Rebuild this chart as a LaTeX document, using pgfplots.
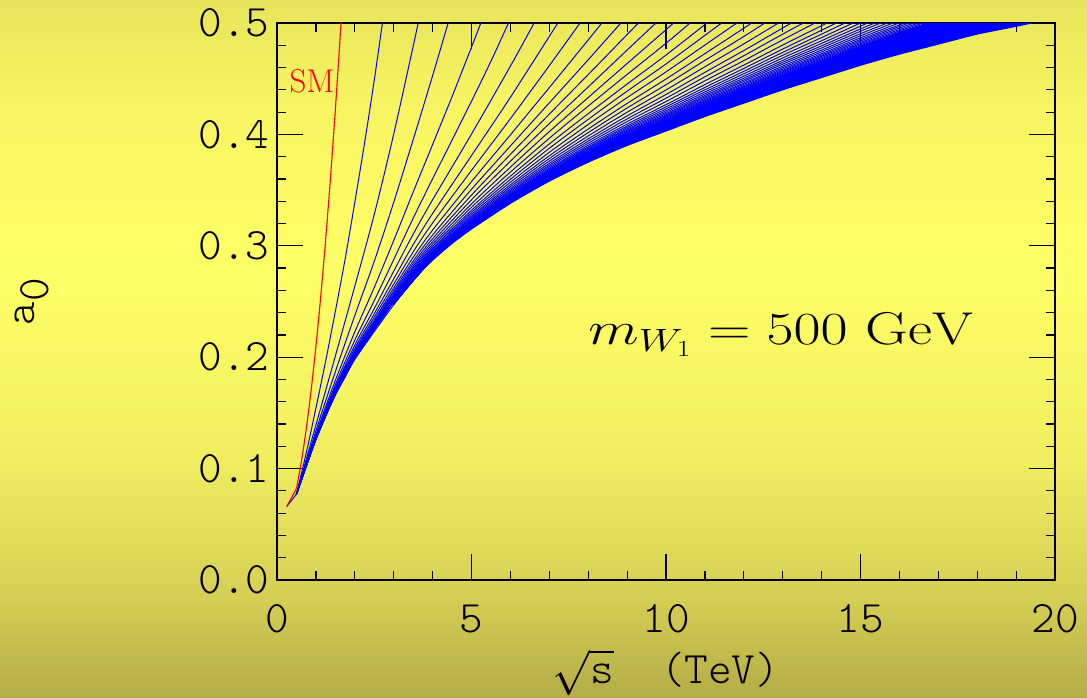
\RequirePackage{fix-cm}
\documentclass[border=0pt]{standalone}
\usepackage{fontspec}
\newfontfamily\lighttt{Latin Modern Mono Light}
\usepackage{pgfplots}
\pgfplotsset{compat=1.18}

% slide background: olive at the bottom, bright yellow a little above the middle
\definecolor{bgbot}{RGB}{180,172,70}
\definecolor{bglow}{RGB}{212,206,84}
\definecolor{bgmidlow}{RGB}{240,238,96}
\definecolor{bgmid}{RGB}{255,255,102}
\definecolor{bghigh}{RGB}{246,244,97}
\definecolor{bgtop}{RGB}{232,228,90}
\pgfdeclareverticalshading{slide}{100bp}{color(0bp)=(bgbot); color(25bp)=(bgbot);
  color(32bp)=(bglow); color(42bp)=(bgmidlow); color(56bp)=(bgmid);
  color(68bp)=(bghigh); color(75bp)=(bgtop); color(100bp)=(bgtop)}

\pgfplotsset{
  kk/.style={color=blue, line width=1pt, smooth, mark=none},
}

\begin{document}
\begin{tikzpicture}
\path[use as bounding box] (0,0) rectangle (1087pt,697pt);
\clip (0,0) rectangle (1087pt,697pt);
\shade[shading=slide] (0,0) rectangle (1087pt,697pt);
\begin{axis}[
  at={(277pt,117pt)}, anchor=south west,
  width=778pt, height=557pt, scale only axis,
  xmin=0, xmax=20, ymin=0, ymax=0.5,
  xtick={0,5,10,15,20}, xticklabels={0,5,10,15,20},
  ytick={0,0.1,0.2,0.3,0.4,0.5}, yticklabels={0.0,0.1,0.2,0.3,0.4,0.5},
  minor x tick num=4, minor y tick num=4,
  tick align=inside, tick pos=both,
  major tick length=26pt, minor tick length=9pt,
  every tick/.style={black, line width=1.2pt},
  axis line style={black, line width=1.4pt},
  xticklabel style={font=\fontsize{45}{45}\selectfont\lighttt, yshift=-21pt},
  yticklabel style={font=\fontsize{45}{45}\selectfont\lighttt, xshift=-4pt},
  xlabel={$\sqrt{\mbox{\lighttt s}}$\ \ (TeV)},
  xlabel style={font=\fontsize{45}{45}\selectfont\lighttt, at={(axis description cs:0.5,-0.1867)}, anchor=base},
  ylabel={a\raisebox{-0.3em}{0}},
  ylabel style={font=\fontsize{45}{45}\selectfont\lighttt, at={(axis description cs:-0.315,0.50)}, anchor=center},
  clip=true,
]

% dense part of the tower: region between the full envelope and the 40th curve
\addplot[fill=blue, draw=none] coordinates {
 (3,0.2477) (3.5,0.2699) (4,0.2882) (4.5,0.3035) (5,0.3169) (6,0.3408) (7,0.3618)
 (8,0.3799) (9,0.3962) (10,0.4107) (11,0.4253) (12,0.4391) (13,0.4530) (14,0.4661)
 (15,0.4794) (16,0.4918) (16.72,0.5) (19.4,0.5) (19,0.497) (18,0.490) (17,0.481)
 (16,0.472) (15,0.462) (14,0.451) (13,0.440) (12,0.428) (11,0.416) (10,0.403)
 (9,0.390) (8,0.375) (7,0.358) (6,0.338) (5,0.315) (4.5,0.302) (4,0.287)
 (3.5,0.269) (3,0.247)} -- cycle;

% full KK tower (envelope)
\addplot[color=blue, line width=1pt] coordinates {(0.25,0.066) (0.5,0.077)};
\addplot[kk] coordinates {(0.5,0.077) (0.75,0.102) (1,0.126) (1.25,0.147) (1.5,0.166)
 (1.75,0.182) (2,0.198) (2.5,0.223) (3,0.247) (3.5,0.269) (4,0.287) (4.5,0.302)
 (5,0.315) (6,0.338) (7,0.358) (8,0.375) (9,0.390) (10,0.403) (11,0.416)
 (12,0.428) (13,0.440) (14,0.451) (15,0.462) (16,0.472) (17,0.481) (18,0.490)
 (19,0.497) (19.4,0.500)};

% truncated towers, 1 ... 40 KK modes
\addplot[kk] coordinates {(0.5,0.077) (0.75,0.1138) (1,0.1542) (1.25,0.1964) (1.5,0.2412) (1.75,0.2878) (2,0.339) (2.25,0.392) (2.5,0.4486) (2.71,0.5)};
\addplot[kk] coordinates {(0.5,0.077) (1,0.1391) (1.5,0.2010) (2,0.2637) (2.5,0.3281) (3,0.4002) (3.5,0.4791) (3.63,0.5)};
\addplot[kk] coordinates {(0.5,0.077) (1,0.1339) (1.5,0.1870) (2,0.2374) (2.5,0.2861) (3,0.3390) (3.5,0.3952) (4,0.4527) (4.4,0.5)};
\addplot[kk] coordinates {(0.5,0.077) (1,0.1309) (1.5,0.1792) (2,0.2227) (2.5,0.2626) (3,0.3047) (3.5,0.3482) (4,0.3909) (4.5,0.4339) (5,0.4783) (5.24,0.5)};
\addplot[kk] coordinates {(0.5,0.077) (1,0.1295) (1.5,0.1753) (2,0.2154) (2.5,0.2508) (3,0.2876) (3.5,0.3247) (4,0.3601) (4.5,0.3948) (5,0.4298) (5.5,0.4657) (5.95,0.5)};
\addplot[kk] coordinates {(0.5,0.077) (1,0.1286) (1.5,0.1729) (2,0.2109) (2.5,0.2437) (3,0.2772) (3.5,0.3104) (4,0.3413) (5,0.4003) (6,0.4613) (6.61,0.5)};
\addplot[kk] coordinates {(0.5,0.077) (1,0.1280) (1.5,0.1713) (2,0.2080) (2.5,0.2390) (3,0.2703) (3.5,0.3010) (4,0.3290) (5,0.3810) (6,0.4333) (7,0.4880) (7.22,0.5)};
\addplot[kk] coordinates {(0.5,0.077) (1,0.1276) (1.5,0.1703) (2,0.2060) (2.5,0.2358) (3,0.2656) (3.5,0.2945) (4,0.3205) (5,0.3677) (6,0.4141) (7,0.4617) (7.79,0.5)};
\addplot[kk] coordinates {(0.5,0.077) (1,0.1273) (1.5,0.1695) (2,0.2045) (2.5,0.2333) (3,0.2621) (3.5,0.2897) (4,0.3141) (5,0.3576) (6,0.3996) (7,0.4420) (8,0.4848) (8.35,0.5)};
\addplot[kk] coordinates {(0.5,0.077) (1,0.1271) (1.5,0.1689) (2,0.2034) (2.5,0.2317) (3,0.2596) (3.5,0.2863) (4,0.3097) (5,0.3507) (6,0.3896) (7,0.4283) (8,0.4670) (8.84,0.5)};
\addplot[kk] coordinates {(0.5,0.077) (1,0.1269) (1.5,0.1685) (2,0.2026) (2.5,0.2304) (3,0.2578) (3.5,0.2838) (4,0.3064) (5,0.3455) (6,0.3821) (7,0.4182) (8,0.4537) (9,0.4896) (9.29,0.5)};
\addplot[kk] coordinates {(0.5,0.077) (1,0.1268) (1.5,0.1681) (2,0.2020) (2.5,0.2294) (3,0.2563) (3.5,0.2817) (4,0.3037) (5,0.3413) (6,0.3759) (7,0.4097) (8,0.4426) (9,0.4757) (9.74,0.5)};
\addplot[kk] coordinates {(0.5,0.077) (1,0.1267) (1.5,0.1678) (2,0.2014) (2.5,0.2285) (3,0.2550) (3.5,0.2799) (4,0.3014) (5,0.3376) (6,0.3706) (7,0.4025) (8,0.4331) (9,0.4636) (10,0.4940) (10.19,0.5)};
\addplot[kk] coordinates {(0.5,0.077) (1,0.1266) (1.5,0.1676) (2,0.2010) (2.5,0.2277) (3,0.2539) (3.5,0.2785) (4,0.2994) (5,0.3346) (6,0.3662) (7,0.3965) (8,0.4254) (9,0.4538) (10,0.4818) (10.62,0.5)};
\addplot[kk] coordinates {(0.5,0.077) (1,0.1265) (1.5,0.1674) (2,0.2006) (2.5,0.2271) (3,0.2530) (3.5,0.2772) (4,0.2978) (5,0.3319) (6,0.3625) (7,0.3914) (8,0.4186) (9,0.4452) (10,0.4712) (11,0.4986) (11.05,0.5)};
\addplot[kk] coordinates {(0.5,0.077) (1,0.1265) (1.5,0.1672) (2,0.2003) (2.5,0.2266) (3,0.2523) (3.5,0.2762) (4,0.2965) (5,0.3300) (6,0.3596) (7,0.3875) (8,0.4135) (9,0.4388) (10,0.4632) (11,0.4889) (11.43,0.5)};
\addplot[kk] coordinates {(0.5,0.077) (1,0.1264) (1.5,0.1671) (2,0.2000) (2.5,0.2262) (3,0.2517) (3.5,0.2754) (4,0.2954) (5,0.3282) (6,0.3570) (7,0.3839) (8,0.4089) (9,0.4330) (10,0.4561) (11,0.4802) (11.82,0.5)};
\addplot[kk] coordinates {(0.5,0.077) (1,0.1264) (1.5,0.1669) (2,0.1998) (2.5,0.2258) (3,0.2511) (3.5,0.2746) (4,0.2944) (5,0.3266) (6,0.3547) (7,0.3808) (8,0.4048) (9,0.4278) (10,0.4497) (11,0.4725) (12,0.4953) (12.2,0.5)};
\addplot[kk] coordinates {(0.5,0.077) (1,0.1263) (1.5,0.1668) (2,0.1996) (2.5,0.2255) (3,0.2507) (3.5,0.2740) (4,0.2936) (5,0.3253) (6,0.3529) (7,0.3783) (8,0.4016) (9,0.4237) (10,0.4446) (11,0.4664) (12,0.4879) (12.54,0.5)};
\addplot[kk] coordinates {(0.5,0.077) (1,0.1263) (1.5,0.1667) (2,0.1994) (2.5,0.2252) (3,0.2502) (3.5,0.2734) (4,0.2928) (5,0.3242) (6,0.3512) (7,0.3760) (8,0.3986) (9,0.4199) (10,0.4399) (11,0.4607) (12,0.4812) (12.89,0.5)};
\addplot[kk] coordinates {(0.5,0.077) (1,0.1262) (1.5,0.1667) (2,0.1992) (2.5,0.2250) (3,0.2499) (3.5,0.2729) (4,0.2922) (5,0.3231) (6,0.3498) (7,0.3740) (8,0.3960) (9,0.4166) (10,0.4358) (11,0.4557) (12,0.4753) (13,0.4955) (13.23,0.5)};
\addplot[kk] coordinates {(0.5,0.077) (1,0.1262) (1.5,0.1666) (2,0.1991) (2.5,0.2248) (3,0.2496) (3.5,0.2726) (4,0.2917) (5,0.3223) (6,0.3486) (7,0.3724) (8,0.3939) (9,0.4139) (10,0.4325) (11,0.4517) (12,0.4706) (13,0.4900) (13.53,0.5)};
\addplot[kk] coordinates {(0.5,0.077) (1,0.1262) (1.5,0.1665) (2,0.1990) (2.5,0.2246) (3,0.2493) (3.5,0.2722) (4,0.2912) (5,0.3216) (6,0.3475) (7,0.3710) (8,0.3920) (9,0.4115) (10,0.4295) (11,0.4481) (12,0.4662) (13,0.4849) (13.83,0.5)};
\addplot[kk] coordinates {(3,0.2491) (4,0.2908) (5,0.3209) (6,0.3465) (7,0.3696) (8,0.3902) (9,0.4092) (10,0.4267) (11,0.4447) (12,0.4622) (13,0.4802) (14,0.4976) (14.13,0.5)};
\addplot[kk] coordinates {(3,0.2489) (4,0.2904) (5,0.3204) (6,0.3458) (7,0.3686) (8,0.3888) (9,0.4075) (10,0.4247) (11,0.4422) (12,0.4592) (13,0.4766) (14,0.4935) (14.38,0.5)};
\addplot[kk] coordinates {(3,0.2487) (4,0.2901) (5,0.3199) (6,0.3451) (7,0.3677) (8,0.3877) (9,0.4061) (10,0.4229) (11,0.4400) (12,0.4566) (13,0.4736) (14,0.4900) (14.6,0.5)};
\addplot[kk] coordinates {(3,0.2486) (4,0.2899) (5,0.3195) (6,0.3446) (7,0.3669) (8,0.3867) (9,0.4048) (10,0.4213) (11,0.4381) (12,0.4544) (13,0.4710) (14,0.4869) (14.81,0.5)};
\addplot[kk] coordinates {(3,0.2485) (4,0.2897) (5,0.3192) (6,0.3441) (7,0.3663) (8,0.3858) (9,0.4037) (10,0.4199) (11,0.4364) (12,0.4523) (13,0.4686) (14,0.4841) (15,0.5)};
\addplot[kk] coordinates {(3,0.2484) (4,0.2895) (5,0.3189) (6,0.3436) (7,0.3656) (8,0.3850) (9,0.4027) (10,0.4186) (11,0.4349) (12,0.4505) (13,0.4664) (14,0.4817) (15,0.4972) (15.19,0.5)};
\addplot[kk] coordinates {(3,0.2483) (4,0.2893) (5,0.3186) (6,0.3432) (7,0.3651) (8,0.3843) (9,0.4017) (10,0.4175) (11,0.4336) (12,0.4489) (13,0.4646) (14,0.4795) (15,0.4947) (15.37,0.5)};
\addplot[kk] coordinates {(3,0.2482) (4,0.2891) (5,0.3184) (6,0.3429) (7,0.3646) (8,0.3837) (9,0.4010) (10,0.4166) (11,0.4324) (12,0.4476) (13,0.4630) (14,0.4776) (15,0.4926) (15.52,0.5)};
\addplot[kk] coordinates {(3,0.2481) (4,0.2890) (5,0.3181) (6,0.3425) (7,0.3642) (8,0.3830) (9,0.4002) (10,0.4156) (11,0.4312) (12,0.4461) (13,0.4613) (14,0.4757) (15,0.4904) (15.69,0.5)};
\addplot[kk] coordinates {(3,0.2480) (4,0.2889) (5,0.3179) (6,0.3422) (7,0.3638) (8,0.3825) (9,0.3995) (10,0.4148) (11,0.4302) (12,0.4450) (13,0.4599) (14,0.4741) (15,0.4885) (15.84,0.5)};
\addplot[kk] coordinates {(3,0.2480) (4,0.2887) (5,0.3177) (6,0.3419) (7,0.3634) (8,0.3820) (9,0.3989) (10,0.4140) (11,0.4293) (12,0.4438) (13,0.4586) (14,0.4725) (15,0.4867) (15.99,0.5)};
\addplot[kk] coordinates {(3,0.2479) (4,0.2886) (5,0.3175) (6,0.3417) (7,0.3630) (8,0.3816) (9,0.3983) (10,0.4133) (11,0.4284) (12,0.4428) (13,0.4574) (14,0.4712) (15,0.4852) (16,0.4983) (16.13,0.5)};
\addplot[kk] coordinates {(3,0.2479) (4,0.2885) (5,0.3174) (6,0.3415) (7,0.3627) (8,0.3812) (9,0.3979) (10,0.4127) (11,0.4278) (12,0.4420) (13,0.4564) (14,0.4701) (15,0.4839) (16,0.4969) (16.26,0.5)};
\addplot[kk] coordinates {(3,0.2478) (4,0.2884) (5,0.3173) (6,0.3413) (7,0.3625) (8,0.3809) (9,0.3974) (10,0.4122) (11,0.4271) (12,0.4412) (13,0.4555) (14,0.4690) (15,0.4826) (16,0.4955) (16.38,0.5)};
\addplot[kk] coordinates {(3,0.2478) (4,0.2884) (5,0.3171) (6,0.3411) (7,0.3622) (8,0.3805) (9,0.3970) (10,0.4116) (11,0.4264) (12,0.4404) (13,0.4546) (14,0.4679) (15,0.4814) (16,0.4941) (16.5,0.5)};
\addplot[kk] coordinates {(3,0.2477) (4,0.2883) (5,0.3170) (6,0.3409) (7,0.3620) (8,0.3802) (9,0.3966) (10,0.4112) (11,0.4259) (12,0.4398) (13,0.4538) (14,0.4670) (15,0.4804) (16,0.4929) (16.61,0.5)};
\addplot[kk] coordinates {(3,0.2477) (4,0.2882) (5,0.3169) (6,0.3408) (7,0.3618) (8,0.3799) (9,0.3962) (10,0.4107) (11,0.4253) (12,0.4391) (13,0.4530) (14,0.4661) (15,0.4794) (16,0.4918) (16.72,0.5)};

% Standard Model without the Higgs
\addplot[color=red, line width=1.1pt] coordinates {(0.25,0.066) (0.5,0.082)};
\addplot[color=red, line width=1.1pt, smooth] coordinates {(0.5,0.082) (0.625,0.1059) (0.75,0.1351)
 (0.875,0.1697) (1,0.2095) (1.125,0.2547) (1.25,0.3051) (1.375,0.3609) (1.5,0.4220)
 (1.625,0.4884) (1.7,0.5308)};

\node[text=red, font=\fontsize{33}{33}\selectfont] at (axis cs:0.90,0.448) {SM};
\node[anchor=base, font=\fontsize{46}{46}\selectfont] at (axis cs:12.95,0.211)
  {\scalebox{1.28}[1]{$m_{W_1} = 500\ \mathrm{GeV}$}};
\end{axis}
\end{tikzpicture}
\end{document}
